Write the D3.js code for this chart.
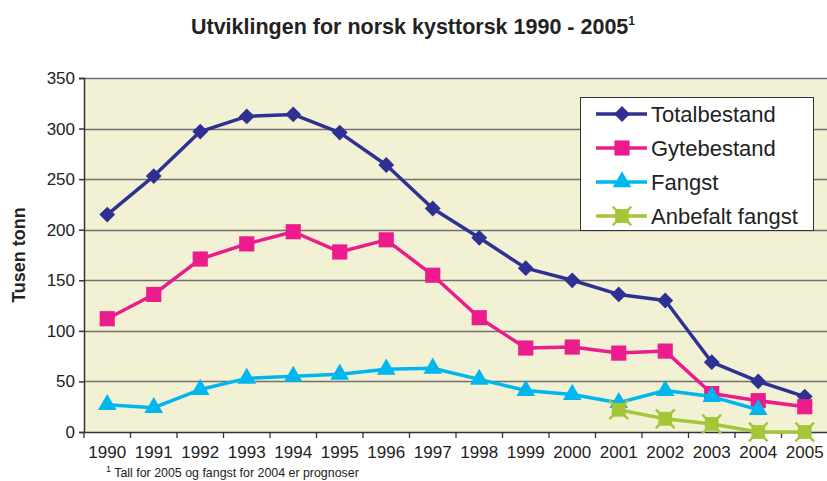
<html>
<head>
<meta charset="utf-8">
<script src="https://d3js.org/d3.v7.min.js"></script>
<style>
body { margin: 0; background: #ffffff; }
text { font-family: "Liberation Sans", Arial, sans-serif; }
</style>
</head>
<body>
<div id="chart"></div>
<script>
// data
var years = ["1990","1991","1992","1993","1994","1995","1996","1997","1998","1999","2000","2001","2002","2003","2004","2005"];
var totalbestand = [215, 253, 297, 312, 314, 296, 264, 221, 192, 162, 150, 136, 130, 69, 50, 35];
var gytebestand  = [112, 136, 171, 186, 198, 178, 190, 155, 113, 83, 84, 78, 80, 38, 31, 25];
var fangst       = [27, 24, 42, 53, 55, 57, 62, 63, 52, 41, 37, 29, 41, 35, 22, null];
var anbefalt     = [null, null, null, null, null, null, null, null, null, null, null, 22, 13, 8, 0, 0];
var yTicks = [0, 50, 100, 150, 200, 250, 300, 350];

var series = [
  {name: "Totalbestand", values: totalbestand, color: "#2e3192", symbol: d3.symbolSquare, size: 125, rot: 45},
  {name: "Gytebestand", values: gytebestand, color: "#ec1c8d", symbol: d3.symbolSquare, size: 230, rot: 0},
  {name: "Fangst", values: fangst, color: "#00b6ef", symbol: d3.symbolTriangle, size: 150, rot: 0},
  {name: "Anbefalt fangst", values: anbefalt, color: "#a4c639", symbol: d3.symbolSquare, size: 190, rot: 0, cross: true}
];

var W = 827, H = 481;
var margin = {top: 78, left: 84, bottom: 49};
var plotW = 744, plotH = H - margin.top - margin.bottom;

var svg = d3.select("#chart").append("svg")
  .attr("width", W).attr("height", H);

var x = d3.scaleBand().domain(years).range([margin.left, margin.left + plotW]);
var y = d3.scaleLinear().domain([0, 350]).range([margin.top + plotH, margin.top]);

// plot background
svg.append("rect")
  .attr("x", margin.left).attr("y", margin.top)
  .attr("width", plotW).attr("height", plotH)
  .attr("fill", "#f3f1d4");

// gridlines
svg.append("g").selectAll("line")
  .data(yTicks.slice(1))
  .enter().append("line")
  .attr("x1", margin.left).attr("x2", margin.left + plotW)
  .attr("y1", function(d) { return Math.round(y(d)) + 0.5; })
  .attr("y2", function(d) { return Math.round(y(d)) + 0.5; })
  .attr("stroke", "#707070")
  .attr("stroke-width", 1.3);

// y axis
var yAxis = svg.append("g")
  .attr("transform", "translate(" + margin.left + ",0)")
  .call(d3.axisLeft(y).tickValues(yTicks).tickSize(5).tickPadding(4));
yAxis.selectAll("text").attr("font-size", "17px").attr("fill", "#222");
yAxis.selectAll("line, path").attr("stroke", "#333").attr("stroke-width", 1.5);

// x axis, ticks between categories
var xAxis = svg.append("g")
  .attr("transform", "translate(0," + (margin.top + plotH) + ")")
  .call(d3.axisBottom(x).tickSize(0).tickPadding(14));
xAxis.select("path").attr("stroke", "#333").attr("stroke-width", 1.5);
xAxis.selectAll("text").attr("font-size", "17px").attr("fill", "#222");
xAxis.selectAll(".edge").data(years).enter().append("line")
  .attr("class", "edge")
  .attr("x1", function(d) { return x(d); }).attr("x2", function(d) { return x(d); })
  .attr("y1", 0).attr("y2", 6)
  .attr("stroke", "#333").attr("stroke-width", 1.3);

// lines and markers
var line = d3.line()
  .defined(function(d) { return d != null; })
  .x(function(d, i) { return x(years[i]) + x.bandwidth() / 2; })
  .y(function(d) { return y(d); });

function drawMarker(g, s) {
  g.append("path")
    .attr("d", d3.symbol().type(s.symbol).size(s.size))
    .attr("transform", "rotate(" + s.rot + ")")
    .attr("fill", s.color);
  if (s.cross) {
    g.append("path")
      .attr("d", d3.symbol().type(d3.symbolX).size(230))
      .attr("fill", "none")
      .attr("stroke", s.color)
      .attr("stroke-width", 2.5);
  }
}

series.forEach(function(s) {
  svg.append("path")
    .datum(s.values)
    .attr("d", line)
    .attr("fill", "none")
    .attr("stroke", s.color)
    .attr("stroke-width", 3.5)
    .attr("stroke-linejoin", "round");

  svg.append("g").selectAll("g")
    .data(s.values.map(function(v, i) { return {v: v, i: i}; }).filter(function(d) { return d.v != null; }))
    .enter().append("g")
    .attr("transform", function(d) {
      return "translate(" + (x(years[d.i]) + x.bandwidth() / 2) + "," + y(d.v) + ")";
    })
    .each(function() { drawMarker(d3.select(this), s); });
});

// legend
var lg = svg.append("g").attr("transform", "translate(580,97)");
lg.append("rect")
  .attr("x", 0.5).attr("y", 0.5)
  .attr("width", 233).attr("height", 133)
  .attr("fill", "#ffffff").attr("stroke", "#333").attr("stroke-width", 1);
series.forEach(function(s, i) {
  var ly = 17 + i * 34;
  lg.append("line")
    .attr("x1", 16).attr("x2", 67).attr("y1", ly).attr("y2", ly)
    .attr("stroke", s.color).attr("stroke-width", 3.5);
  drawMarker(lg.append("g").attr("transform", "translate(42," + ly + ")"), s);
  lg.append("text")
    .attr("x", 71).attr("y", ly + 8)
    .attr("font-size", "22px").attr("fill", "#222")
    .text(s.name);
});

// title
var title = svg.append("text")
  .attr("x", 413).attr("y", 34)
  .attr("text-anchor", "middle")
  .attr("font-size", "21.5px").attr("font-weight", "bold").attr("fill", "#222");
title.append("tspan").text("Utviklingen for norsk kysttorsk 1990 - 2005");
title.append("tspan").attr("dy", -9).attr("font-size", "12px").text("1");

// y label
svg.append("text")
  .attr("transform", "translate(25," + (margin.top + plotH / 2) + ") rotate(-90)")
  .attr("text-anchor", "middle")
  .attr("font-size", "18px").attr("font-weight", "bold").attr("fill", "#222")
  .text("Tusen tonn");

// footnote
var foot = svg.append("text")
  .attr("x", 106).attr("y", 477)
  .attr("font-size", "12.4px").attr("fill", "#222");
foot.append("tspan").attr("dy", -5).attr("font-size", "9px").text("1");
foot.append("tspan").attr("dy", 5).text(" Tall for 2005 og fangst for 2004 er prognoser");
</script>
</body>
</html>
